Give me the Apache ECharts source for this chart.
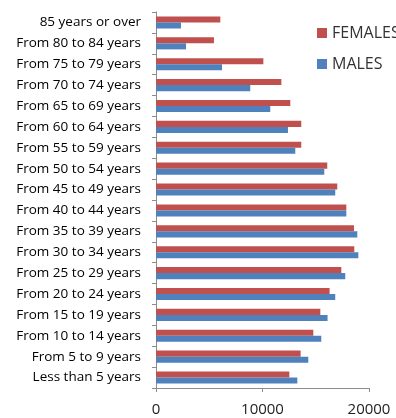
<!DOCTYPE html>
<html>
<head>
<meta charset="utf-8">
<script src="https://cdn.jsdelivr.net/npm/echarts@6/dist/echarts.min.js"></script>
<style>
  html, body { margin: 0; padding: 0; background: #fff; }
  #chart { width: 396px; height: 418px; }
</style>
</head>
<body>
<div id="chart"></div>
<script>
// Age groups, youngest at the bottom of the axis
const ageGroups = [
  'Less than 5 years', 'From 5 to 9 years', 'From 10 to 14 years', 'From 15 to 19 years',
  'From 20 to 24 years', 'From 25 to 29 years', 'From 30 to 34 years', 'From 35 to 39 years',
  'From 40 to 44 years', 'From 45 to 49 years', 'From 50 to 54 years', 'From 55 to 59 years',
  'From 60 to 64 years', 'From 65 to 69 years', 'From 70 to 74 years', 'From 75 to 79 years',
  'From 80 to 84 years', '85 years or over'
];
const females = [12520, 13580, 14770, 15430, 16300, 17400, 18620, 18590, 17870, 17020, 16080, 13640, 13640, 12610, 11770, 10080, 5440, 6040];
const males   = [13270, 14300, 15520, 16110, 16830, 17770, 19000, 18900, 17870, 16830, 15800, 13080, 12390, 10730, 8850, 6200, 2820, 2350];
const xTicks = { min: 0, max: 20000, interval: 10000 };

const chart = echarts.init(document.getElementById('chart'));
const axisGray = '#8c8c8c';
chart.setOption({
  animation: false,
  textStyle: { fontFamily: 'Open Sans, sans-serif' },
  grid: { left: 156, right: 27, top: 12, bottom: 30 },
  legend: {
    orient: 'vertical',
    left: 312,
    top: 20,
    itemWidth: 10,
    itemHeight: 10,
    itemGap: 15,
    icon: 'rect',
    textStyle: { fontSize: 16, color: '#333' },
    data: ['FEMALES', 'MALES']
  },
  xAxis: {
    type: 'value',
    min: xTicks.min, max: xTicks.max, interval: xTicks.interval,
    axisLine: { show: true, lineStyle: { color: axisGray } },
    axisTick: { show: true, length: 4, lineStyle: { color: axisGray } },
    splitLine: { show: false },
    axisLabel: { fontSize: 15, color: '#222', margin: 14, formatter: v => String(v) }
  },
  yAxis: {
    type: 'category',
    data: ageGroups,
    axisLine: { show: true, lineStyle: { color: axisGray } },
    axisTick: { show: true, length: 4, lineStyle: { color: axisGray } },
    axisLabel: { fontSize: 13.5, color: '#000', margin: 15, interval: 0 }
  },
  series: [
    {
      name: 'FEMALES', type: 'bar', data: females,
      itemStyle: { color: '#c0504d' },
      barGap: '0%', barCategoryGap: '42%'
    },
    {
      name: 'MALES', type: 'bar', data: males,
      itemStyle: { color: '#4f81bd' }
    }
  ]
});
</script>
</body>
</html>
